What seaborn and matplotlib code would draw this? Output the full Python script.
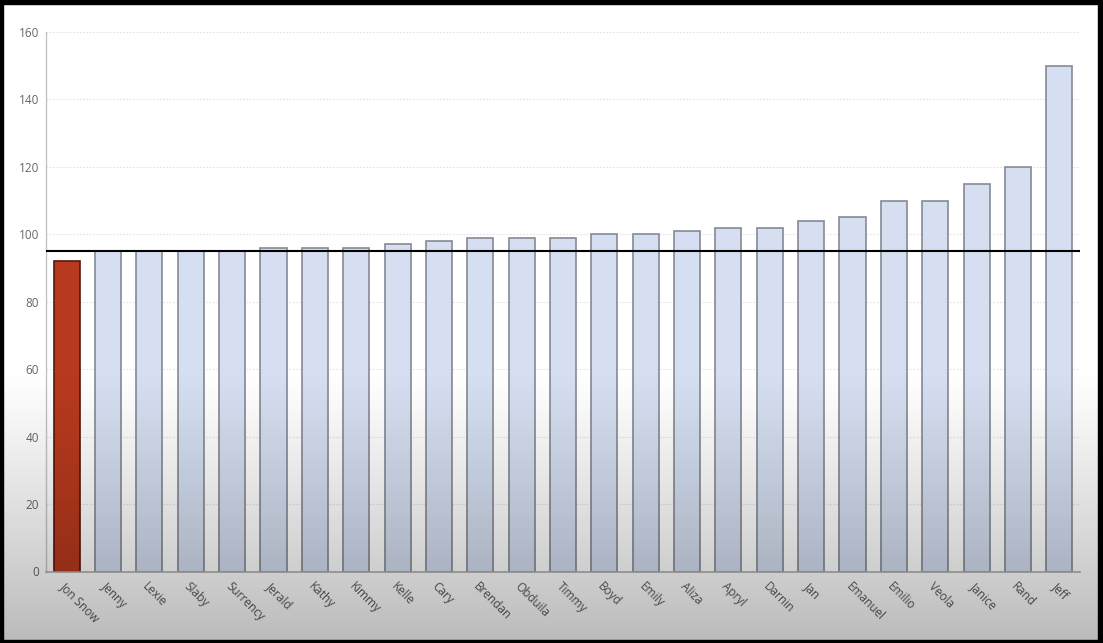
import matplotlib
matplotlib.use("Agg")
import matplotlib.pyplot as plt
import numpy as np
import seaborn as sns
from matplotlib.patches import Rectangle

names = ["Jon Snow", "Jenny", "Lexie", "Slaby", "Surrency", "Jerald", "Kathy", "Kimmy",
         "Kelle", "Cary", "Brendan", "Obduila", "Timmy", "Boyd", "Emily", "Aliza", "Apryl",
         "Darnin", "Jan", "Emanuel", "Emilio", "Veola", "Janice", "Rand", "Jeff"]
scores = [92, 95, 95, 95, 95, 96, 96, 96, 97, 98, 99, 99, 99, 100, 100, 101, 102,
          102, 104, 105, 110, 110, 115, 120, 150]
highlight = "Jon Snow"
target = 95
y_ticks = [0, 20, 40, 60, 80, 100, 120, 140, 160]

BLUE = "#d5dff1"
RED = "#b83a1e"

sns.set_theme(style="white")
plt.rcParams["font.family"] = ["Open Sans", "DejaVu Sans"]

fig = plt.figure(figsize=(11.03, 6.43), dpi=100)
fig.patch.set_facecolor("white")
ax = fig.add_axes([46 / 1103, 1 - 571.5 / 643, (1080 - 46) / 1103, (571.5 - 32) / 643])
ax.set_facecolor("none")

colors = {n: (RED if n == highlight else BLUE) for n in names}
sns.barplot(x=names, y=scores, hue=names, palette=colors, legend=False, saturation=1,
            width=0.63, ax=ax, zorder=2)
for patch, n in zip(ax.patches, names):
    patch.set_edgecolor("#5a1508" if n == highlight else "#858a94")
    patch.set_linewidth(1.2)

ax.axhline(target, color="black", lw=1.5, zorder=3)

ax.set_ylim(0, 160)
ax.set_xlim(-0.5, len(names) - 0.5)
ax.set_yticks(y_ticks)
ax.yaxis.grid(True, linestyle=(0, (1.5, 1.5)), color="#e2e2e2", lw=0.8, zorder=0)
ax.set_axisbelow(True)
ax.tick_params(axis="both", length=0, labelsize=8.5, labelcolor="#666666")
ax.tick_params(axis="y", pad=5)
ax.set_xticks(range(len(names)))
ax.set_xticklabels(names, rotation=-45, ha="left", va="top", rotation_mode="anchor",
                   fontsize=8.5, color="#5a5a5a")
ax.tick_params(axis="x", pad=6)
ax.set_xlabel("")
ax.set_ylabel("")
for side in ["top", "right"]:
    ax.spines[side].set_visible(False)
ax.spines["left"].set_color("#c4c4c4")
ax.spines["bottom"].set_color("#b0b0b0")
ax.spines["left"].set_linewidth(1)
ax.spines["bottom"].set_linewidth(1.2)

# darkening gradient over the lower part of the picture
shade = fig.add_axes([0, 0, 1, 1], zorder=10)
rows = 643
alpha = np.clip((np.arange(rows) - 370) / (640 - 370), 0, 1) ** 1.1 * 0.27
grad = np.zeros((rows, 1, 4))
grad[:, 0, 3] = alpha
shade.imshow(grad, aspect="auto", extent=[0, 1, 1, 0], interpolation="bilinear")
shade.set_xlim(0, 1)
shade.set_ylim(1, 0)
shade.axis("off")

# black frame
W, H = 1103, 643
for x0, y0, w, h in [(0, 0, 3, H), (0, H - 4, W, 4), (W - 5, 0, 5, H), (0, 0, W, 3)]:
    fig.add_artist(Rectangle((x0 / W, y0 / H), w / W, h / H, transform=fig.transFigure,
                             color="black", zorder=20))

fig.savefig("out.png", dpi=100)
